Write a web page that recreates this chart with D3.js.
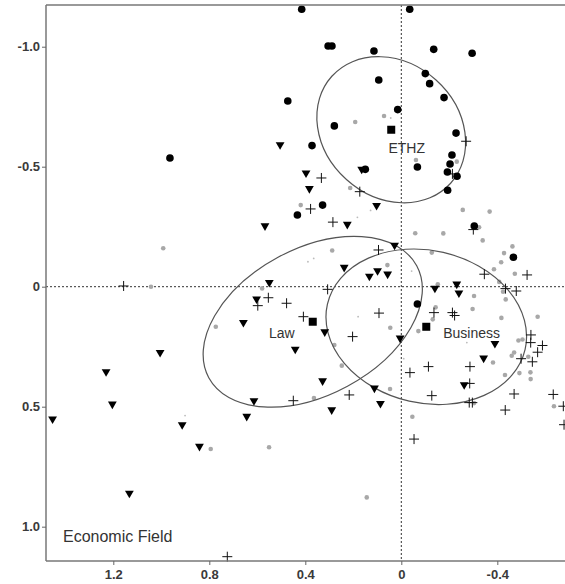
<!DOCTYPE html>
<html>
<head>
<meta charset="utf-8">
<script src="https://cdn.jsdelivr.net/npm/d3@7"></script>
<style>
  html, body { margin: 0; padding: 0; background: #fff; }
  svg { display: block; }
  text { font-family: "Liberation Sans", Arial, sans-serif; }
</style>
</head>
<body>
<svg id="chart" width="565" height="584"></svg>
<script>
// ---- Data ----
const xTicks = [1.2, 0.8, 0.4, 0, -0.4];
const xTickLabels = ["1.2", "0.8", "0.4", "0", "-0.4"];
const yTicks = [-1, -0.5, 0, 0.5, 1];
const yTickLabels = ["-1.0", "-0.5", "0", "0.5", "1.0"];
const chartTitle = "Economic Field";

// ETHZ (filled circles)
const ethzPoints = [
  [0.964,-0.536],[0.415,-1.156],[0.305,-1.003],[0.289,-1.003],[0.114,-0.982],
  [0.094,-0.861],[0.473,-0.774],[0.279,-0.670],[0.372,-0.588],[0.150,-0.489],
  [-0.035,-1.156],[-0.135,-0.989],[-0.295,-0.973],[-0.100,-0.888],[-0.118,-0.846],
  [-0.178,-0.788],[0.015,-0.738],[-0.228,-0.640],[-0.067,-0.499],[-0.211,-0.549],
  [-0.203,-0.511],[-0.192,-0.478],[-0.232,-0.460],[-0.193,-0.402],[0.328,-0.340],
  [0.433,-0.299],[-0.304,-0.253],[-0.467,-0.123],[-0.067,0.072]
];
// Law (down triangles)
const lawPoints = [
  [0.505,-0.588],[0.165,-0.486],[0.397,-0.470],[0.383,-0.405],[0.103,-0.335],
  [0.568,-0.250],[0.225,-0.256],[0.238,-0.077],[0.133,-0.040],[0.099,-0.063],
  [0.057,-0.049],[0.028,-0.169],[0.550,-0.014],[0.603,0.055],[0.658,0.153],
  [0.319,0.192],[0.442,0.264],[0.328,0.396],[0.112,0.426],[0.087,0.490],
  [0.290,0.517],[0.614,0.479],[0.644,0.544],[-0.140,0.010],[-0.231,-0.007],
  [-0.240,0.030],[0.005,0.218],[-0.390,0.240],[-0.343,0.301],[-0.262,0.412],
  [1.005,0.278],[1.230,0.358],[1.453,0.555],[1.204,0.493],[1.133,0.864],
  [0.913,0.579],[0.841,0.669]
];
// Business (plus signs)
const businessPoints = [
  [-0.270,-0.606],[-0.213,-0.470],[0.333,-0.453],[0.173,-0.396],[0.378,-0.324],
  [0.285,-0.269],[0.095,-0.153],[0.307,0.011],[0.598,0.079],[0.554,0.046],
  [0.478,0.069],[0.408,0.125],[0.093,0.110],[0.203,0.208],[1.157,-0.003],
  [-0.300,-0.238],[-0.346,-0.052],[-0.524,-0.049],[-0.434,0.008],[-0.479,0.018],
  [-0.136,0.108],[-0.213,0.108],[-0.222,0.120],[-0.540,0.201],[-0.539,0.233],
  [-0.588,0.245],[-0.568,0.273],[-0.499,0.300],[-0.546,0.313],[-0.286,0.333],
  [-0.113,0.333],[-0.036,0.358],[-0.285,0.403],[0.450,0.475],[0.217,0.451],
  [-0.127,0.454],[-0.283,0.483],[-0.296,0.483],[-0.470,0.447],[-0.433,0.514],
  [-0.633,0.449],[-0.675,0.498],[-0.678,0.575],[-0.053,0.635],[0.725,1.125]
];
// Other respondents (grey dots)
const otherPoints = [
  [0.192,-0.686],[0.213,-0.411],[0.072,-0.711],[-0.061,-0.528],[-0.231,-0.521],
  [0.992,-0.160],[1.043,0.000],[0.419,-0.340],[0.288,-0.151],[0.580,0.007],
  [0.773,0.167],[0.279,0.243],[0.248,0.329],[-0.256,-0.320],[-0.368,-0.313],
  [-0.324,-0.248],[-0.058,-0.223],[-0.175,-0.222],[-0.339,-0.193],[-0.463,-0.168],
  [-0.428,-0.140],[-0.416,-0.102],[-0.386,-0.073],[-0.473,-0.054],[0.058,-0.090],
  [-0.127,-0.142],[-0.152,-0.010],[-0.408,-0.020],[-0.424,0.021],[-0.303,0.039],
  [-0.435,0.053],[-0.297,0.093],[-0.143,0.086],[-0.131,0.136],[0.046,0.171],
  [-0.071,0.185],[-0.417,0.130],[-0.568,0.125],[-0.488,0.224],[-0.505,0.220],
  [-0.470,0.274],[-0.460,0.288],[-0.529,0.292],[-0.382,0.316],[-0.432,0.368],
  [-0.492,0.360],[-0.538,0.357],[-0.539,0.385],[0.364,0.464],[0.794,0.676],
  [0.551,0.669],[0.144,0.878],[0.047,0.426],[-0.046,0.542],[-0.303,0.485],
  [-0.636,0.498]
];
// Tiny grey specks
const minorPoints = [
  [0.044,-0.703],[0.389,-0.104],[0.128,-0.318],[0.183,-0.289],[0.365,-0.118],
  [-0.043,-0.065],[0.901,0.537],[-0.273,0.233],[0.180,0.125],[-0.010,0.300]
];
// Group centroids (squares) and their ellipses
const groupNames = ["ETHZ", "Law", "Business"];
const centroids = [[0.042,-0.654],[0.369,0.146],[-0.104,0.167]];
const ellipseAxes = [[0.333,0.279],[0.492,0.305],[0.4225,0.318]]; // semi-axes, data units
const ellipseAngles = [42, -28.3, 12.9]; // rotation in degrees
const labelAnchors = [[-0.0225,-0.577],[0.498,0.194],[-0.293,0.192]];

// ---- Layout ----
const svg = d3.select("#chart");
const mLeft = 46, mRight = 565, mTop = 5, mBottom = 561;

const x = d3.scaleLinear().domain([1.4804, -0.682]).range([mLeft, mRight]);
const y = d3.scaleLinear().domain([-1.1738, 1.143]).range([mTop, mBottom]);

const plot = svg.append("g");

// dotted zero lines
plot.append("line")
  .attr("x1", mLeft).attr("x2", mRight).attr("y1", y(0)).attr("y2", y(0))
  .attr("stroke", "#333").attr("stroke-width", 1).attr("stroke-dasharray", "2,2");
plot.append("line")
  .attr("x1", x(0)).attr("x2", x(0)).attr("y1", mTop).attr("y2", mBottom)
  .attr("stroke", "#333").attr("stroke-width", 1).attr("stroke-dasharray", "2,2");

// tiny specks
plot.selectAll(".minor").data(minorPoints).join("circle")
  .attr("class", "minor")
  .attr("cx", d => x(d[0])).attr("cy", d => y(d[1])).attr("r", 0.9)
  .attr("fill", "#bbb");

// grey dots
plot.selectAll(".other").data(otherPoints).join("circle")
  .attr("class", "other")
  .attr("cx", d => x(d[0])).attr("cy", d => y(d[1])).attr("r", 2.3)
  .attr("fill", "#a8a8a8");

// ellipses
plot.selectAll(".ell").data(groupNames).join("ellipse")
  .attr("class", "ell")
  .attr("transform", (d, i) => `translate(${x(centroids[i][0])},${y(centroids[i][1])}) rotate(${ellipseAngles[i]})`)
  .attr("rx", (d, i) => Math.abs(x(ellipseAxes[i][0]) - x(0)))
  .attr("ry", (d, i) => Math.abs(y(ellipseAxes[i][1]) - y(0)))
  .attr("fill", "none").attr("stroke", "#555").attr("stroke-width", 1.2);

// plus signs
plot.selectAll(".bus").data(businessPoints).join("path")
  .attr("class", "bus")
  .attr("transform", d => `translate(${x(d[0])},${y(d[1])})`)
  .attr("d", "M-5,0H5M0,-5V5")
  .attr("stroke", "#111").attr("stroke-width", 1).attr("fill", "none");

// triangles
plot.selectAll(".law").data(lawPoints).join("path")
  .attr("class", "law")
  .attr("transform", d => `translate(${x(d[0])},${y(d[1])})`)
  .attr("d", "M-4.4,-3.4L4.4,-3.4L0,4.2Z")
  .attr("fill", "#000");

// circles
plot.selectAll(".ethz").data(ethzPoints).join("circle")
  .attr("class", "ethz")
  .attr("cx", d => x(d[0])).attr("cy", d => y(d[1])).attr("r", 3.8)
  .attr("fill", "#000");

// centroid squares
plot.selectAll(".cent").data(centroids).join("rect")
  .attr("class", "cent")
  .attr("x", d => x(d[0]) - 4).attr("y", d => y(d[1]) - 4)
  .attr("width", 8).attr("height", 8).attr("fill", "#000");

// group labels
plot.selectAll(".glabel").data(groupNames).join("text")
  .attr("class", "glabel")
  .attr("x", (d, i) => x(labelAnchors[i][0]))
  .attr("y", (d, i) => y(labelAnchors[i][1]) + 5)
  .attr("text-anchor", "middle")
  .attr("font-size", 14).attr("fill", "#333")
  .text(d => d);

// frame
const frame = svg.append("g");
frame.append("line").attr("x1", mLeft).attr("x2", mRight).attr("y1", mTop).attr("y2", mTop)
  .attr("stroke", "#777").attr("stroke-width", 1.5);

// axes
const yAxis = d3.axisLeft(y).tickValues(yTicks)
  .tickFormat((d, i) => yTickLabels[i]).tickSize(4).tickPadding(2);
const gy = svg.append("g").attr("transform", `translate(${mLeft},0)`).call(yAxis);

const xAxis = d3.axisBottom(x).tickValues(xTicks)
  .tickFormat((d, i) => xTickLabels[i]).tickSize(4).tickPadding(5);
const gx = svg.append("g").attr("transform", `translate(0,${mBottom})`).call(xAxis);

[gx, gy].forEach(g => {
  g.select(".domain").attr("stroke", "#777").attr("stroke-width", 1.5);
  g.selectAll(".tick line").attr("stroke", "#666");
  g.selectAll(".tick text")
    .attr("font-family", "'Liberation Sans', Arial, sans-serif")
    .attr("font-size", 13).attr("font-weight", "bold").attr("fill", "#3a3a3a");
});
gy.select(".domain").attr("d", `M0,${mTop}V${mBottom}`);
gx.select(".domain").attr("d", `M${mLeft},0H${mRight}`);

// title
svg.append("text")
  .attr("x", 63).attr("y", 541.5)
  .attr("font-size", 16).attr("fill", "#333")
  .text(chartTitle);
</script>
</body>
</html>
